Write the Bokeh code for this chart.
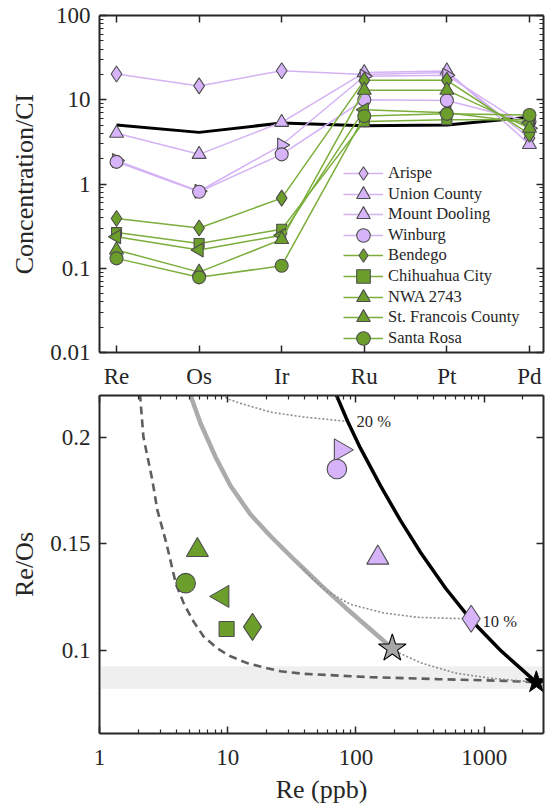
import numpy as np
from bokeh.plotting import figure
from bokeh.models import (FixedTicker, LogAxis, LinearAxis, Legend, LegendItem,
                          Range1d, CustomJSTickFormatter)
from bokeh.core.properties import value
from bokeh.layouts import column
from bokeh.embed import file_html
from bokeh.resources import INLINE

# ---------------- data: top panel (CI-normalised HSE) ----------------
elements = ["Re", "Os", "Ir", "Ru", "Pt", "Pd"]
ci_reference = [5.0, 4.1, 5.3, 4.9, 5.0, 6.2]

sample_names = ["Arispe", "Union County", "Mount Dooling", "Winburg", "Bendego",
                "Chihuahua City", "NWA 2743", "St. Francois County", "Santa Rosa"]

arispe_ci = [20.2, 14.6, 22.1, 20.0, 21.0, 3.5]
union_county_ci = [4.0, 2.25, 5.4, 21.0, 22.0, 2.95]
mount_dooling_ci = [1.9, 0.82, 2.9, 19.0, 19.5, 4.6]
winburg_ci = [1.83, 0.81, 2.25, 10.0, 9.8, 5.5]
bendego_ci = [0.39, 0.30, 0.68, 17.0, 17.0, 3.9]
chihuahua_ci = [0.265, 0.197, 0.29, 5.5, 5.8, 5.8]
nwa2743_ci = [0.236, 0.165, 0.246, 7.6, 7.0, 5.3]
st_francois_ci = [0.165, 0.09, 0.22, 13.0, 13.0, 4.6]
santa_rosa_ci = [0.131, 0.078, 0.107, 6.4, 6.8, 6.6]

top_y_ticks = [0.01, 0.1, 1, 10, 100]
top_y_tick_labels = ["0.01", "0.1", "1", "10", "100"]

# ---------------- data: bottom panel (Re vs Re/Os) ----------------
re_ppb = [791, 148, 76, 71, 15.6, 9.8, 9.1, 5.8, 4.7]
re_os = [0.1148, 0.1434, 0.194, 0.185, 0.111, 0.110, 0.1253, 0.147, 0.1315]

grey_star_re = [192]
grey_star_ratio = [0.1009]
black_star_re = [2550]
black_star_ratio = [0.085]

band_re = [1.03, 2850]
band_ratio = [0.082, 0.0925]

dashed_re = [2.03, 2.20, 2.58, 2.82, 3.33, 3.95, 4.55, 5.41, 6.48, 8.28, 10.5, 14.2,
             20.3, 25.8, 39, 130, 431, 1417, 2430]
dashed_ratio = [0.2265, 0.200, 0.180, 0.166, 0.150, 0.131, 0.1219, 0.1135, 0.1065,
                0.1009, 0.0972, 0.094, 0.0916, 0.0902, 0.089, 0.0874, 0.0865, 0.0857, 0.0851]

grey_curve_re = [4.86, 5.13, 6.13, 8.03, 10.5, 15.06, 21.6, 33.8, 52.9, 83.0, 130, 192]
grey_curve_ratio = [0.2242, 0.2195, 0.2065, 0.1907, 0.1772, 0.1637, 0.1535, 0.1419,
                    0.1307, 0.1200, 0.1098, 0.1009]

black_curve_re = [66.9, 86.0, 108.6, 155.6, 222.8, 319, 500, 783, 1343, 2550]
black_curve_ratio = [0.2228, 0.2074, 0.1947, 0.1771, 0.1608, 0.1459, 0.1291, 0.1145,
                     0.0999, 0.085]

dotted20_re = [9.1, 9.9, 12.6, 21.6, 39, 78.2, 86.0]
dotted20_ratio = [0.220, 0.218, 0.2158, 0.2117, 0.2094, 0.2076, 0.2074]

dotted10_re = [37, 45, 60, 91, 165, 300, 540, 791]
dotted10_ratio = [0.1395, 0.134, 0.1275, 0.1215, 0.1175, 0.1155, 0.1150, 0.1148]

dotted_star_re = [192, 220, 325, 600, 1100, 2550]
dotted_star_ratio = [0.1009, 0.0986, 0.0940, 0.0893, 0.0870, 0.085]

pct_labels = ["20 %", "10 %"]
pct_label_re = [101, 972]
pct_label_ratio = [0.2074, 0.1137]

bot_x_ticks = [1, 10, 100, 1000]
bot_x_tick_labels = ["1", "10", "100", "1000"]
bot_y_ticks = [0.1, 0.15, 0.2]
bot_y_tick_labels = ["0.1", "0.15", "0.2"]

# ---------------- styles ----------------
FONT = "'Liberation Serif'"
PURPLE = "#D7B3FA"
PURPLE_LINE = "#D4B2F4"
GREEN = "#6C9E2C"
GREEN_LINE = "#7BAE3B"
EDGE = "#4D4D4D"
AX = "#262626"

sample_style = {
    "Arispe": ("diamond", 0.0, PURPLE, PURPLE_LINE),
    "Union County": ("triangle", 0.0, PURPLE, PURPLE_LINE),
    "Mount Dooling": ("triangle", -np.pi / 2, PURPLE, PURPLE_LINE),
    "Winburg": ("circle", 0.0, PURPLE, PURPLE_LINE),
    "Bendego": ("diamond", 0.0, GREEN, GREEN_LINE),
    "Chihuahua City": ("square", 0.0, GREEN, GREEN_LINE),
    "NWA 2743": ("triangle", np.pi / 2, GREEN, GREEN_LINE),
    "St. Francois County": ("triangle", 0.0, GREEN, GREEN_LINE),
    "Santa Rosa": ("circle", 0.0, GREEN, GREEN_LINE),
}
top_size = {"diamond": 16, "triangle": 14, "circle": 13, "square": 10}
bot_size = {"diamond": 27, "triangle": 22, "circle": 19.5, "square": 15}

ci_series = [arispe_ci, union_county_ci, mount_dooling_ci, winburg_ci, bendego_ci,
             chihuahua_ci, nwa2743_ci, st_francois_ci, santa_rosa_ci]


def style_axis(ax, labels=True):
    ax.axis_line_width = 2
    ax.axis_line_color = AX
    ax.major_tick_in = 7
    ax.major_tick_out = 0
    ax.minor_tick_in = 4
    ax.minor_tick_out = 0
    ax.major_tick_line_width = 1.5
    ax.minor_tick_line_width = 1.2
    ax.major_tick_line_color = AX
    ax.minor_tick_line_color = AX
    ax.major_label_text_font = FONT
    ax.major_label_text_font_size = "23px"
    ax.major_label_text_color = AX
    ax.axis_label_text_font = FONT
    ax.axis_label_text_font_size = "26px"
    ax.axis_label_text_font_style = "normal"
    ax.axis_label_text_color = AX
    if not labels:
        ax.formatter = CustomJSTickFormatter(code="return ''")
        ax.major_label_text_font_size = "0px"
        ax.major_label_standoff = 0


# ---------------- top figure ----------------
p1 = figure(width=547, height=391, x_range=Range1d(-0.206, 5.17),
            y_range=Range1d(0.01, 100), y_axis_type="log",
            output_backend="svg", toolbar_location=None,
            min_border_left=99, min_border_right=4, min_border_top=15,
            min_border_bottom=37)
p1.grid.visible = False
p1.outline_line_color = None

xi = list(range(len(elements)))
p1.line(xi, ci_reference, line_color="black", line_width=3)

for i, (name, vals) in enumerate(zip(sample_names, ci_series)):
    marker, ang, fill, lcol = sample_style[name]
    r_line = p1.line(xi, vals, line_color=lcol, line_width=1.5)
    r_pts = p1.scatter(xi, vals, marker=marker, angle=ang, size=top_size[marker],
                       fill_color=fill, line_color=EDGE, line_width=1.1)
    leg = Legend(items=[LegendItem(label=name, renderers=[r_line, r_pts])],
                 location=(244, 162 - 20.6 * i), padding=0, margin=0, spacing=0,
                 glyph_width=40, glyph_height=34, label_height=20, label_standoff=5,
                 label_text_font=FONT, label_text_font_size="16.5px",
                 label_text_color=AX, border_line_color=None,
                 background_fill_alpha=0)
    p1.add_layout(leg)

p1.xaxis.ticker = FixedTicker(ticks=xi)
p1.xaxis.major_label_overrides = {i: e for i, e in zip(xi, elements)}
p1.yaxis.ticker = FixedTicker(ticks=top_y_ticks,
                              minor_ticks=[m * d for d in [0.01, 0.1, 1, 10] for m in range(2, 10)])
p1.yaxis.major_label_overrides = {t: s for t, s in zip(top_y_ticks, top_y_tick_labels)}
p1.yaxis.axis_label = "Concentration/CI"
style_axis(p1.xaxis[0])
style_axis(p1.yaxis[0])
p1.xaxis.major_label_standoff = 11
p1.yaxis.major_label_standoff = 9
p1.yaxis.axis_label_standoff = 8

ax_top1 = LinearAxis(ticker=FixedTicker(ticks=xi))
style_axis(ax_top1, labels=False)
p1.add_layout(ax_top1, "above")
ax_right1 = LogAxis(ticker=FixedTicker(ticks=top_y_ticks,
                    minor_ticks=[m * d for d in [0.01, 0.1, 1, 10] for m in range(2, 10)]))
style_axis(ax_right1, labels=False)
p1.add_layout(ax_right1, "right")

# ---------------- bottom figure ----------------
p2 = figure(width=547, height=415, x_range=Range1d(1, 2900),
            y_range=Range1d(0.061, 0.2195), x_axis_type="log",
            output_backend="svg", toolbar_location=None,
            min_border_left=99, min_border_right=4, min_border_top=4,
            min_border_bottom=70)
p2.grid.visible = False
p2.outline_line_color = None

p2.quad(left=[band_re[0]], right=[band_re[1]], bottom=[band_ratio[0]], top=[band_ratio[1]],
        fill_color="#EFEFEF", line_color=None)
p2.line(dashed_re, dashed_ratio, line_color="#5E5E5E", line_width=2.6, line_dash="8 5")
p2.line(grey_curve_re, grey_curve_ratio, line_color="#ABABAB", line_width=4.5)
p2.line(dotted20_re, dotted20_ratio, line_color="#8C8C8C", line_width=1.6, line_dash="2 2")
p2.line(dotted10_re, dotted10_ratio, line_color="#8C8C8C", line_width=1.6, line_dash="2 2")
p2.line(dotted_star_re, dotted_star_ratio, line_color="#8C8C8C", line_width=1.6, line_dash="2 2")
p2.line(black_curve_re, black_curve_ratio, line_color="black", line_width=3.5)

for name, xv, yv in zip(sample_names, re_ppb, re_os):
    marker, ang, fill, lcol = sample_style[name]
    p2.scatter([xv], [yv], marker=marker, angle=ang, size=bot_size[marker],
               fill_color=fill, line_color=EDGE, line_width=1.1)

p2.scatter(grey_star_re, grey_star_ratio, marker="star", size=29,
           fill_color="#A6A6A6", line_color="black", line_width=1.1)
p2.scatter(black_star_re, black_star_ratio, marker="star", size=23,
           fill_color="black", line_color="black", line_width=1)

p2.text(pct_label_re, pct_label_ratio, text=pct_labels, text_font=value(FONT),
        text_font_size="16.5px", text_align="left", text_baseline="middle",
        text_color=AX)

p2.xaxis.ticker = FixedTicker(ticks=bot_x_ticks,
                              minor_ticks=[m * d for d in [1, 10, 100, 1000] for m in range(2, 10)])
p2.xaxis.major_label_overrides = {t: s for t, s in zip(bot_x_ticks, bot_x_tick_labels)}
p2.yaxis.ticker = FixedTicker(ticks=bot_y_ticks)
p2.yaxis.major_label_overrides = {t: s for t, s in zip(bot_y_ticks, bot_y_tick_labels)}
p2.xaxis.axis_label = "Re (ppb)"
p2.yaxis.axis_label = "Re/Os"
style_axis(p2.xaxis[0])
style_axis(p2.yaxis[0])
p2.xaxis.major_label_standoff = 16
p2.xaxis.axis_label_standoff = 7
p2.yaxis.major_label_standoff = 9
p2.yaxis.axis_label_standoff = 8

ax_top2 = LogAxis(ticker=FixedTicker(ticks=bot_x_ticks,
                  minor_ticks=[m * d for d in [1, 10, 100, 1000] for m in range(2, 10)]))
style_axis(ax_top2, labels=False)
p2.add_layout(ax_top2, "above")
ax_right2 = LinearAxis(ticker=FixedTicker(ticks=bot_y_ticks))
style_axis(ax_right2, labels=False)
p2.add_layout(ax_right2, "right")

layout = column(p1, p2, spacing=0)
html = file_html(layout, INLINE)
html = html.replace("</head>", "<style>html,body{overflow:hidden;}</style></head>", 1)
open("out.html", "w").write(html)
